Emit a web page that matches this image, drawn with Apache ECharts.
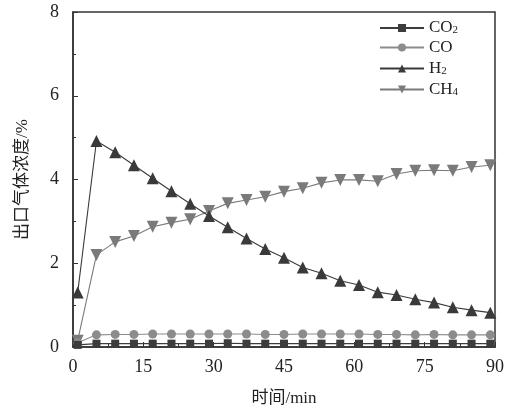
<!DOCTYPE html>
<html>
<head>
<meta charset="utf-8">
<script src="https://cdn.jsdelivr.net/npm/echarts@6/dist/echarts.min.js"></script>
<style>html,body{margin:0;padding:0;background:#fff}#c{width:512px;height:408px}</style>
</head>
<body>
<div id="c"></div>
<script>
var times = [1,5,9,13,17,21,25,29,33,37,41,45,49,53,57,61,65,69,73,77,81,85,89];
var co2 = [0.05,0.08,0.08,0.08,0.08,0.08,0.08,0.08,0.09,0.08,0.08,0.08,0.08,0.08,0.08,0.08,0.08,0.08,0.08,0.08,0.08,0.08,0.08];
var co  = [0.10,0.29,0.30,0.30,0.31,0.31,0.31,0.31,0.31,0.31,0.30,0.30,0.31,0.31,0.31,0.31,0.30,0.30,0.29,0.30,0.29,0.29,0.29];
var h2  = [1.30,4.92,4.65,4.34,4.03,3.72,3.42,3.13,2.86,2.59,2.34,2.13,1.90,1.76,1.58,1.48,1.31,1.24,1.14,1.06,0.95,0.88,0.82];
var ch4 = [0.15,2.20,2.51,2.65,2.87,2.97,3.05,3.25,3.43,3.51,3.59,3.71,3.79,3.92,3.99,3.99,3.96,4.13,4.21,4.22,4.21,4.30,4.34];
var xTicks = [0,15,30,45,60,75,90];
var yTicks = [0,2,4,6,8];
var names = ['CO{s|2}','CO','H{s|2}','CH{s|4}'];

function pts(v){ return times.map(function(t,i){ return [t, v[i]]; }); }

var serif = '"Liberation Serif","Noto Sans CJK SC",serif';
var chart = echarts.init(document.getElementById('c'), null, {renderer:'canvas'});
var series = [
  {name:names[0], data:pts(co2), symbol:'rect', symbolSize:8, color:'#3c3c3c', z:5},
  {name:names[1], data:pts(co), symbol:'circle', symbolSize:9, color:'#8c8c8c', z:4},
  {name:names[2], data:pts(h2), symbol:'triangle', symbolSize:12, color:'#3a3a3a', z:3},
  {name:names[3], data:pts(ch4), symbol:'triangle', symbolRotate:180, symbolSize:12, color:'#7a7a7a', z:2}
].map(function(s){
  return Object.assign({type:'line', showSymbol:true, animation:false,
    lineStyle:{width:1.1, color:s.color}, itemStyle:{color:s.color}}, s);
});

chart.setOption({
  animation:false,
  grid:{left:73, right:17, top:12, bottom:61, show:true, borderColor:'#333', borderWidth:1.5,
    outerBoundsMode:'none', containLabel:false},
  legend:{
    orient:'vertical', left:374, top:13, itemWidth:44, itemHeight:10, itemGap:2.5,
    data:names,
    textStyle:{fontFamily:serif, fontSize:17, color:'#222', lineHeight:16,
      rich:{s:{fontFamily:serif, fontSize:11, color:'#222', verticalAlign:'bottom', lineHeight:16, padding:[7,0,0,0]}}},
    formatter:function(n){ return n; }
  },
  xAxis:{
    type:'value', min:xTicks[0], max:xTicks[xTicks.length-1], interval:15,
    name:'时间/min', nameLocation:'middle', nameGap:43,
    nameTextStyle:{fontFamily:serif, fontSize:17, color:'#222'},
    axisLine:{lineStyle:{color:'#333', width:1.5}},
    axisTick:{inside:true, length:5, lineStyle:{color:'#333'}},
    minorTick:{show:true, splitNumber:2, length:3, lineStyle:{color:'#333'}},
    axisLabel:{fontFamily:serif, fontSize:18, color:'#222', margin:11},
    splitLine:{show:false}
  },
  yAxis:{
    type:'value', min:yTicks[0], max:yTicks[yTicks.length-1], interval:2,
    name:'出口气体浓度/%', nameLocation:'middle', nameGap:42,
    nameTextStyle:{fontFamily:serif, fontSize:17, color:'#222'},
    axisLine:{lineStyle:{color:'#333', width:1.5}},
    axisTick:{inside:true, length:5, lineStyle:{color:'#333'}},
    minorTick:{show:true, splitNumber:2, length:3, lineStyle:{color:'#333'}},
    axisLabel:{fontFamily:serif, fontSize:18, color:'#222', margin:14},
    splitLine:{show:false}
  },
  series:series
});
</script>
</body>
</html>
